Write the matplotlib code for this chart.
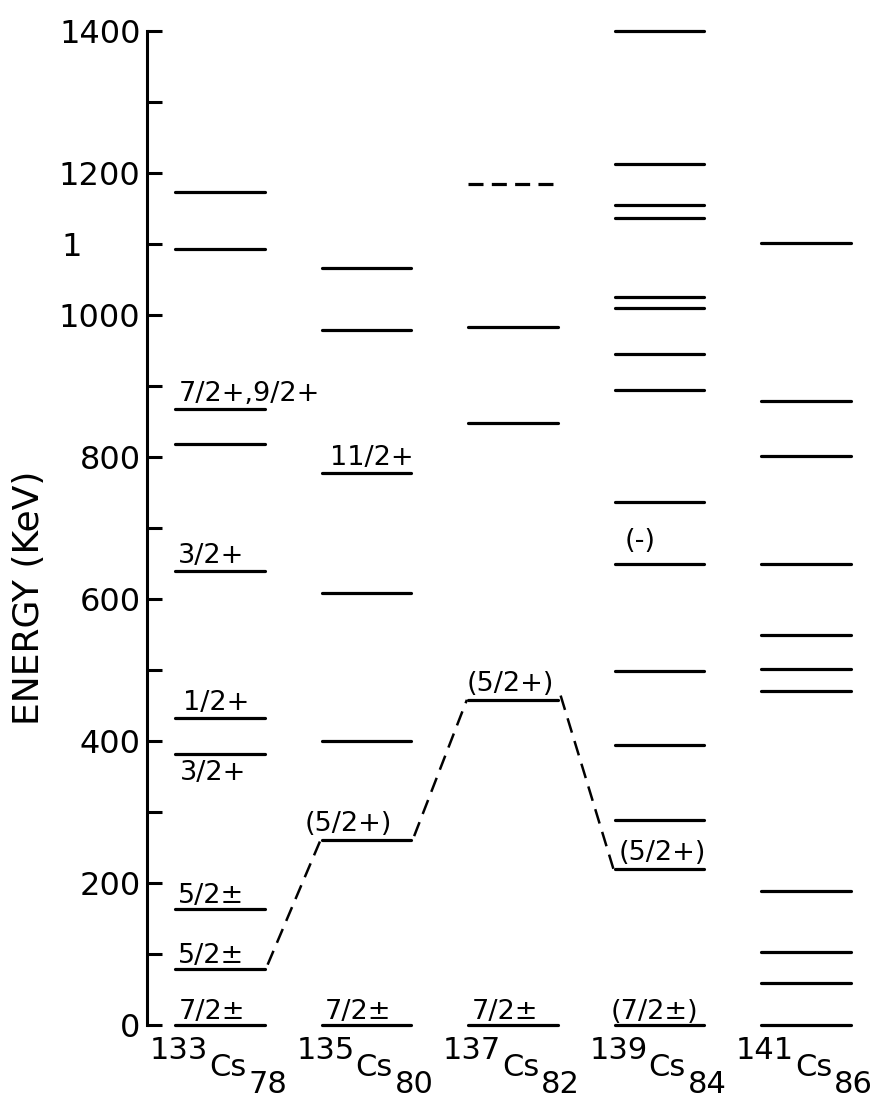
import matplotlib
matplotlib.use("Agg")
import matplotlib.pyplot as plt

plt.rcParams['font.family'] = 'DejaVu Sans'

# ----------------------------------------------------------------------------
# Level schemes of the odd-A Cs isotopes (energies in keV)
# ----------------------------------------------------------------------------
mass_numbers = ['133', '135', '137', '139', '141']
neutron_numbers = ['78', '80', '82', '84', '86']

levels_133 = [0, 79, 163, 381, 433, 640, 818, 867, 1093, 1173]
levels_135 = [0, 260, 400, 609, 777, 979, 1066]
levels_137 = [0, 458, 848, 983]
levels_137_tentative = [1185]
levels_139 = [0, 220, 289, 395, 498, 650, 736, 895, 945, 1010, 1025,
              1137, 1155, 1212, 1400]
levels_141 = [0, 59, 103, 189, 470, 502, 550, 650, 801, 879, 1102]
all_levels = [levels_133, levels_135, levels_137, levels_139, levels_141]

# spin / parity assignments: isotope index, level energy, label
spin_iso = [0, 0, 0, 0, 0, 0, 0, 1, 1, 1, 2, 2, 3, 3, 3]
spin_energy = [0, 79, 163, 381, 433, 640, 867, 0, 260, 777, 0, 458, 0, 220, 650]
spin_text = ['7/2±', '5/2±', '5/2±', '3/2+', '1/2+', '3/2+', '7/2+,9/2+',
             '7/2±', '(5/2+)', '11/2+', '7/2±', '(5/2+)', '(7/2±)', '(5/2+)',
             '(-)']

# the 5/2+ level followed from isotope to isotope
trend_iso = [0, 1, 2, 3]
trend_energy = [79, 260, 458, 220]

yticks = list(range(0, 1500, 100))

# ----------------------------------------------------------------------------
# label placement in pixels (dx from left end of level, dy above the level)
label_offsets = [(3, 6), (3, 6), (3, 6), (5, -26), (8, 8), (3, 8), (3, 8),
                 (3, 6), (-17, 9), (8, 8), (3, 6), (-2, 9), (-4, 6), (4, 9),
                 (10, 16)]
half = 0.305   # half width of a level line, in column units
LW = 2.3

fig = plt.figure(figsize=(8.79, 10.99), dpi=100)
ax = fig.add_axes([147.5 / 879, 74 / 1099, 1 - 147.5 / 879, 994 / 1099])
ax.set_xlim(-0.495, 4.498)
ax.set_ylim(0, 1400)

for i, lev in enumerate(all_levels):
    for e in lev:
        ax.plot([i - half, i + half], [e, e], color='black', lw=LW,
                solid_capstyle='round', clip_on=False)
for e in levels_137_tentative:
    ax.plot([2 - half, 2 + half], [e, e], color='black', lw=LW,
            linestyle=(0, (4.7, 2.6)), clip_on=False)

# dashed line joining the 5/2+ states
for k in range(len(trend_iso) - 1):
    ax.plot([trend_iso[k] + half + 0.02, trend_iso[k + 1] - half - 0.01],
            [trend_energy[k] + 6, trend_energy[k + 1]], color='black',
            lw=1.8, dashes=(6, 3.5), clip_on=False)

for iso, e, txt, (dx, dy) in zip(spin_iso, spin_energy, spin_text, label_offsets):
    ax.annotate(txt, xy=(iso - half, e), xytext=(dx, dy),
                textcoords='offset pixels', ha='left', va='baseline',
                fontsize=19.5, annotation_clip=False)

# isotope names under each column
for i, (a, n) in enumerate(zip(mass_numbers, neutron_numbers)):
    ax.annotate(a, xy=(i, 0), xytext=(-12, -34), textcoords='offset pixels',
                ha='right', va='baseline', fontsize=22, annotation_clip=False)
    ax.annotate('Cs', xy=(i, 0), xytext=(-11, -51), textcoords='offset pixels',
                ha='left', va='baseline', fontsize=22, annotation_clip=False)
    ax.annotate(n, xy=(i, 0), xytext=(28, -68), textcoords='offset pixels',
                ha='left', va='baseline', fontsize=22, annotation_clip=False)

# axis
for s in ['top', 'right', 'bottom']:
    ax.spines[s].set_visible(False)
ax.spines['left'].set_linewidth(2.2)
ax.set_xticks([])
ax.set_yticks(yticks)
ax.set_yticklabels([str(v) if v % 200 == 0 else '' for v in yticks])
ax.tick_params(axis='y', direction='in', length=11, width=2.2,
               labelsize=23, pad=5)
ax.annotate('1', xy=(0, 1100), xycoords=('axes fraction', 'data'),
            xytext=(-86, 0), textcoords='offset pixels', ha='left',
            va='center_baseline', fontsize=23, annotation_clip=False)

fig.text(29 / 879, 1 - 598 / 1099, 'ENERGY (KeV)', rotation=90,
         ha='center', va='center', fontsize=26)

fig.savefig('out.png', dpi=100)
